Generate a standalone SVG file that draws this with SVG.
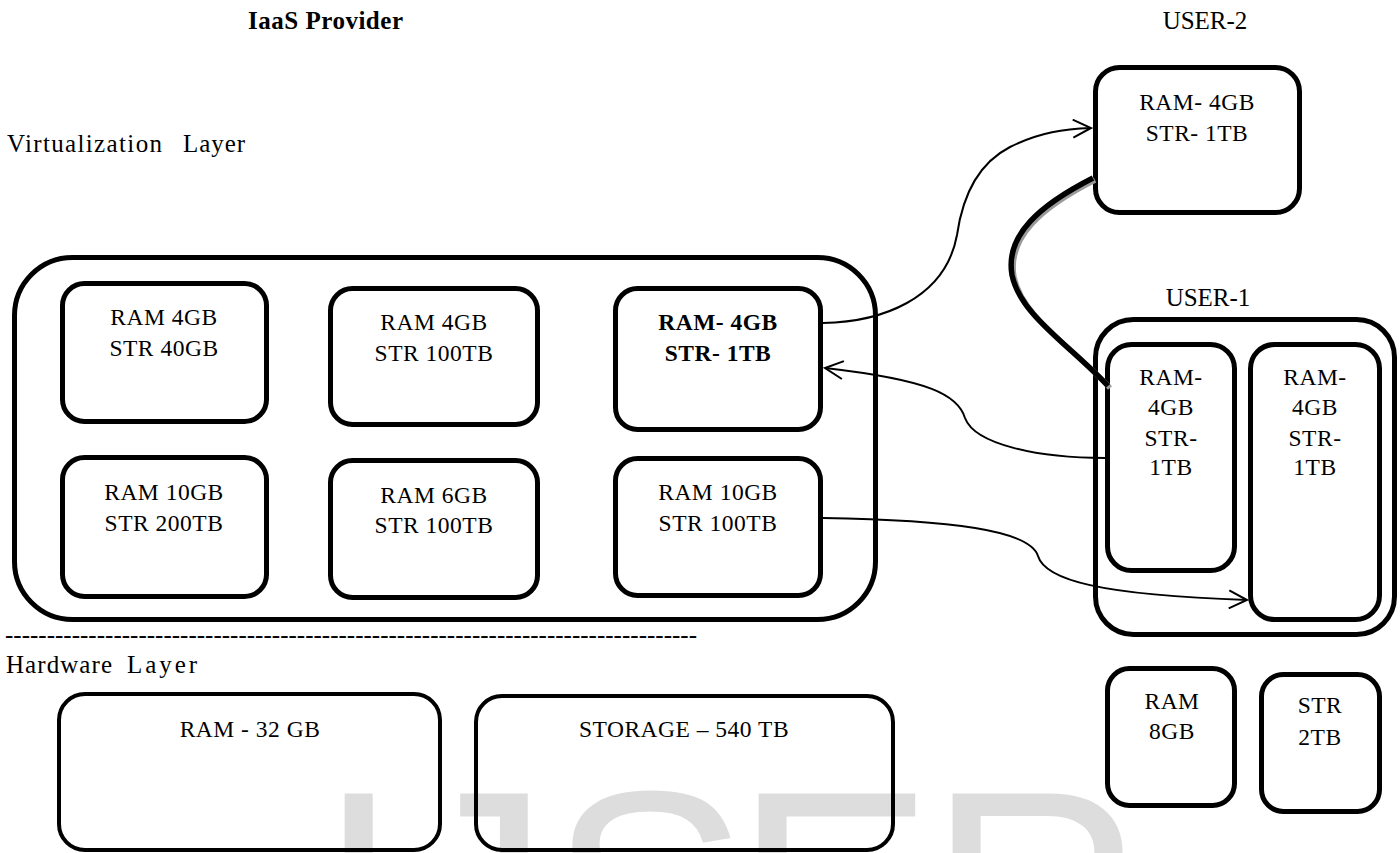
<svg xmlns="http://www.w3.org/2000/svg" width="1400" height="853" viewBox="0 0 1400 853">
<style>
text{font-family:"Liberation Serif","Times New Roman",serif;fill:#000}
.lbl{font-size:25px}
.t{font-size:23.5px;letter-spacing:0.5px;text-anchor:middle}
.bold{font-weight:bold}
.b{stroke:#000;stroke-width:5;fill:none}
.hw{stroke:#000;stroke-width:4;fill:none}
.wm{font-family:"Liberation Sans",Arial,sans-serif;font-size:300px;fill:#dddddd}
.c{stroke:#000;stroke-width:2;fill:none}
.thick{stroke:#000;stroke-width:5.5;fill:none}
.shadow{stroke:#9a9a9a;stroke-width:5.5;fill:none}
</style>
<defs>
<marker id="arr" markerUnits="userSpaceOnUse" markerWidth="24" markerHeight="20" refX="20" refY="10" orient="auto" viewBox="0 0 24 20">
<path d="M2,1 L20,10 L2,19" fill="none" stroke="#000" stroke-width="2"/>
</marker>
</defs>

<g id="watermark">
<text class="wm" x="317 400 549 734 928" y="1000">IJSER</text>
</g>

<g id="labels">
<text class="lbl bold" x="248" y="29" textLength="155">IaaS Provider</text>
<text class="lbl" x="7" y="152"><tspan textLength="155">Virtualization</tspan><tspan x="183" textLength="62">Layer</tspan></text>
<text class="lbl" x="1205" y="29" text-anchor="middle">USER-2</text>
<text class="lbl" x="1208" y="306" text-anchor="middle">USER-1</text>
<text class="lbl" x="5" y="643" textLength="692" lengthAdjust="spacingAndGlyphs">-----------------------------------------------------------------------------------</text>
<text class="lbl" x="6" y="673"><tspan textLength="106">Hardware</tspan><tspan x="127" textLength="70">Layer</tspan></text>
</g>

<g id="virtualization-layer">
<rect class="b" x="14.5" y="257.5" width="861" height="362" rx="58"/>
</g>
<g id="vm1"><rect class="b" x="62.5" y="283.5" width="204" height="138" rx="22"/>
<text class="t" x="164" y="325">RAM 4GB</text><text class="t" x="164" y="356">STR 40GB</text></g>
<g id="vm2"><rect class="b" x="330.5" y="288.5" width="207" height="136" rx="22"/>
<text class="t" x="434" y="330">RAM 4GB</text><text class="t" x="434" y="361">STR 100TB</text></g>
<g id="vm3"><rect class="b" x="615.5" y="288.5" width="205" height="141" rx="22"/>
<text class="t bold" x="718" y="330">RAM- 4GB</text><text class="t bold" x="718" y="361">STR- 1TB</text></g>
<g id="vm4"><rect class="b" x="62.5" y="457.5" width="204" height="139" rx="22"/>
<text class="t" x="164" y="500">RAM 10GB</text><text class="t" x="164" y="531">STR 200TB</text></g>
<g id="vm5"><rect class="b" x="330.5" y="460.5" width="207" height="137" rx="22"/>
<text class="t" x="434" y="503">RAM 6GB</text><text class="t" x="434" y="533">STR 100TB</text></g>
<g id="vm6"><rect class="b" x="615.5" y="458.5" width="205" height="137" rx="22"/>
<text class="t" x="718" y="500">RAM 10GB</text><text class="t" x="718" y="531">STR 100TB</text></g>

<g id="user2"><rect class="b" x="1095.5" y="67.5" width="204" height="145" rx="24"/>
<text class="t" x="1197" y="110">RAM- 4GB</text><text class="t" x="1197" y="141">STR- 1TB</text></g>

<g id="user1">
<rect class="b" x="1095.5" y="319.5" width="299" height="315" rx="38"/>
</g>
<g id="user1-vm-a"><rect class="b" x="1107.5" y="344.5" width="127" height="226" rx="24"/>
<text class="t" x="1171" y="385">RAM-</text><text class="t" x="1171" y="415">4GB</text><text class="t" x="1171" y="446">STR-</text><text class="t" x="1171" y="475">1TB</text></g>
<g id="user1-vm-b"><rect class="b" x="1250.5" y="344.5" width="129" height="275" rx="24"/>
<text class="t" x="1315" y="385">RAM-</text><text class="t" x="1315" y="415">4GB</text><text class="t" x="1315" y="446">STR-</text><text class="t" x="1315" y="475">1TB</text></g>

<g id="free-ram"><rect class="b" x="1107.5" y="668.5" width="127" height="137" rx="22"/>
<text class="t" x="1172" y="709">RAM</text><text class="t" x="1172" y="739">8GB</text></g>
<g id="free-str"><rect class="b" x="1261.5" y="674.5" width="118" height="137" rx="22"/>
<text class="t" x="1320" y="713">STR</text><text class="t" x="1320" y="745">2TB</text></g>

<g id="hw-ram"><rect class="hw" x="59" y="694" width="381" height="156" rx="26"/>
<text class="t" x="250" y="737">RAM - 32 GB</text></g>
<g id="hw-storage"><rect class="hw" x="476" y="696" width="417" height="154" rx="26"/>
<text class="t" x="684" y="737">STORAGE – 540 TB</text></g>

<g id="connectors">
<path class="c" d="M823,323 C880,322 945,300 957,235 C962,200 975,165 1010,147 C1040,132 1065,129 1091,128" marker-end="url(#arr)"/>
<path class="c" d="M1105,458 C1040,458 975,445 965,418 C958,395 930,380 825,368" marker-end="url(#arr)"/>
<path class="c" d="M823,518 C950,520 1030,530 1038,556 C1045,580 1100,595 1247,600" marker-end="url(#arr)"/>
<path class="shadow" d="M1095,180 C1042,207 1007,237 1014,277 C1022,317 1072,347 1110,388"/>
<path class="thick" d="M1093,178 C1040,205 1005,235 1012,275 C1020,315 1070,345 1108,386"/>
</g>
</svg>
